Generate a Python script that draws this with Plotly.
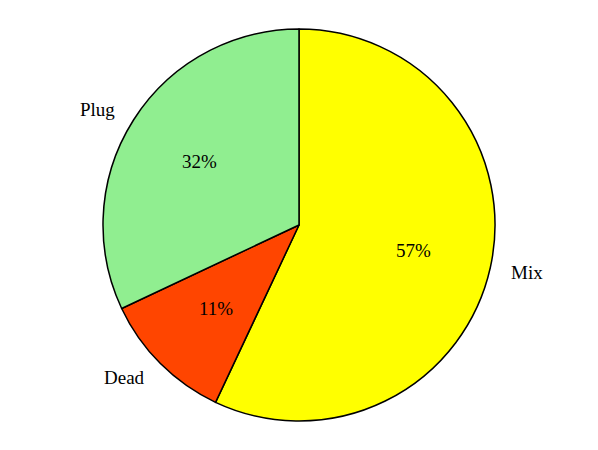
import numpy as np
import plotly.graph_objects as go

# clockwise from 12 o'clock, as in the reference
labels = ['Mix', 'Dead', 'Plug']
values = [57, 11, 32]
colors = ['#FFFF00', '#FF4500', '#90EE90']

W, H = 598, 450
M_TOP, M_BOT = 29, 29
FONT = dict(family='Liberation Serif, DejaVu Serif, serif', size=19, color='black')

fig = go.Figure(go.Pie(
    labels=labels, values=values, sort=False,
    direction='clockwise', rotation=0,
    marker=dict(colors=colors, line=dict(color='black', width=1.5)),
    textinfo='none', hoverinfo='label+percent', showlegend=False,
))

# label / percent positions from the slice angles (matplotlib style)
PH = H - M_TOP - M_BOT
R = PH / 2
cx, cy = W / 2, R
tot = sum(values)
start = 90.0
for lab, v in zip(labels, values):
    span = 360.0 * v / tot
    mid = np.deg2rad(start - span / 2)
    start -= span
    px, py = cx + 0.6 * R * np.cos(mid), cy - 0.6 * R * np.sin(mid)
    fig.add_annotation(x=px / W, y=1 - py / PH, xref='paper', yref='paper',
                       text=f'{round(100 * v / tot)}%', showarrow=False,
                       xanchor='center', yanchor='middle', font=FONT)
    lx, ly = cx + 1.1 * R * np.cos(mid), cy - 1.1 * R * np.sin(mid)
    fig.add_annotation(x=lx / W, y=1 - ly / PH, xref='paper', yref='paper',
                       text=lab, showarrow=False,
                       xanchor='right' if np.cos(mid) < 0 else 'left',
                       yanchor='middle', font=FONT)

fig.update_layout(
    width=W, height=H,
    margin=dict(t=M_TOP, b=M_BOT, l=0, r=0),
    paper_bgcolor='white', plot_bgcolor='white',
)
fig.write_html('out.html', config={'displayModeBar': False},
               post_script="document.body.style.margin='0';")
